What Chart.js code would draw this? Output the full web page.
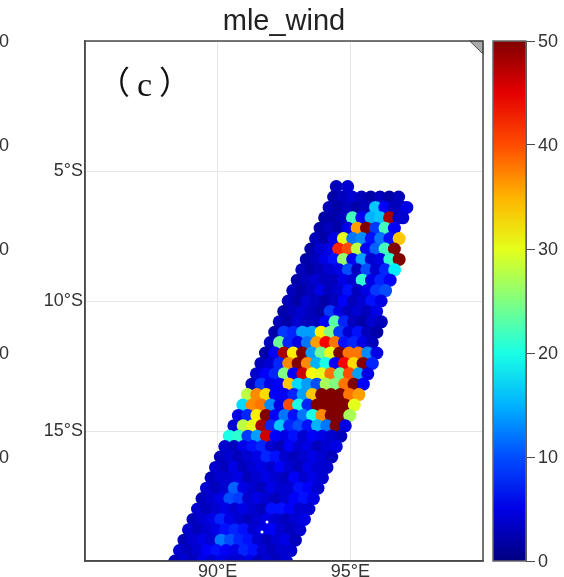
<!DOCTYPE html>
<html>
<head>
<meta charset="utf-8">
<style>
  html, body { margin: 0; padding: 0; background: #fff; overflow: hidden; }
</style>
<script src="https://cdn.jsdelivr.net/npm/chart.js@4"></script>
</head>
<body>
<canvas id="mapa" width="564" height="577"></canvas>
<script>
const chartTitle = "mle_wind";
const panelLabel = "c";
const lonTicks = [90, 95];
const latTicks = [-5, -10, -15];
const colorTicks = [0, 10, 20, 30, 40, 50];
const neighbourLabels = ["50", "40", "30", "20", "10"];
const landLon = [99.5, 100, 100];
const landLat = [0, 0, -0.5];
const speckLon = [91.86, 91.67];
const speckLat = [-18.5, -18.88];

// swath, one row per latitude
const rowLat = [-5.6, -6.0, -6.4, -6.8, -7.2, -7.6, -8.0, -8.4, -8.8, -9.2, -9.6, -10.0, -10.4, -10.8, -11.2, -11.6, -12.0, -12.4, -12.8, -13.2, -13.6, -14.0, -14.4, -14.8, -15.2, -15.6, -16.0, -16.4, -16.8, -17.2, -17.6, -18.0, -18.4, -18.8, -19.2, -19.6, -20.0];
const rowLon = [
  [94.47, 94.90],
  [94.37, 94.72, 95.07, 95.42, 95.77, 96.12, 96.47, 96.82],
  [94.20, 94.55, 94.90, 95.25, 95.60, 95.95, 96.30, 96.65, 97.00, 97.13],
  [94.03, 94.38, 94.73, 95.08, 95.43, 95.78, 96.13, 96.48, 96.83, 96.98],
  [93.86, 94.21, 94.56, 94.91, 95.26, 95.61, 95.96, 96.31, 96.66],
  [93.69, 94.04, 94.39, 94.74, 95.09, 95.44, 95.79, 96.14, 96.49, 96.84],
  [93.51, 93.86, 94.21, 94.56, 94.91, 95.26, 95.61, 95.96, 96.31, 96.66],
  [93.34, 93.69, 94.04, 94.39, 94.74, 95.09, 95.44, 95.79, 96.14, 96.49, 96.84],
  [93.17, 93.52, 93.87, 94.22, 94.57, 94.92, 95.27, 95.62, 95.97, 96.32, 96.67],
  [93.00, 93.35, 93.70, 94.05, 94.40, 94.75, 95.10, 95.45, 95.80, 96.15, 96.50],
  [92.83, 93.18, 93.53, 93.88, 94.23, 94.58, 94.93, 95.28, 95.63, 95.98, 96.33],
  [92.66, 93.01, 93.36, 93.71, 94.06, 94.41, 94.76, 95.11, 95.46, 95.81, 96.16],
  [92.49, 92.84, 93.19, 93.54, 93.89, 94.24, 94.59, 94.94, 95.29, 95.64, 95.99],
  [92.32, 92.67, 93.02, 93.37, 93.72, 94.07, 94.42, 94.77, 95.12, 95.47, 95.82, 96.17],
  [92.15, 92.50, 92.85, 93.20, 93.55, 93.90, 94.25, 94.60, 94.95, 95.30, 95.65, 96.00],
  [91.98, 92.33, 92.68, 93.03, 93.38, 93.73, 94.08, 94.43, 94.78, 95.13, 95.48, 95.83],
  [91.80, 92.15, 92.50, 92.85, 93.20, 93.55, 93.90, 94.25, 94.60, 94.95, 95.30, 95.65, 96.00],
  [91.63, 91.98, 92.33, 92.68, 93.03, 93.38, 93.73, 94.08, 94.43, 94.78, 95.13, 95.48, 95.83],
  [91.46, 91.81, 92.16, 92.51, 92.86, 93.21, 93.56, 93.91, 94.26, 94.61, 94.96, 95.31, 95.66],
  [91.29, 91.64, 91.99, 92.34, 92.69, 93.04, 93.39, 93.74, 94.09, 94.44, 94.79, 95.14, 95.49],
  [91.12, 91.47, 91.82, 92.17, 92.52, 92.87, 93.22, 93.57, 93.92, 94.27, 94.62, 94.97, 95.32],
  [90.95, 91.30, 91.65, 92.00, 92.35, 92.70, 93.05, 93.40, 93.75, 94.10, 94.45, 94.80, 95.15],
  [90.78, 91.13, 91.48, 91.83, 92.18, 92.53, 92.88, 93.23, 93.58, 93.93, 94.28, 94.63, 94.98],
  [90.61, 90.96, 91.31, 91.66, 92.01, 92.36, 92.71, 93.06, 93.41, 93.76, 94.11, 94.46, 94.81],
  [90.44, 90.79, 91.14, 91.49, 91.84, 92.19, 92.54, 92.89, 93.24, 93.59, 93.94, 94.29, 94.64],
  [90.27, 90.62, 90.97, 91.32, 91.67, 92.02, 92.37, 92.72, 93.07, 93.42, 93.77, 94.12, 94.47],
  [90.10, 90.45, 90.80, 91.15, 91.50, 91.85, 92.20, 92.55, 92.90, 93.25, 93.60, 93.95, 94.30],
  [89.92, 90.27, 90.62, 90.97, 91.32, 91.67, 92.02, 92.37, 92.72, 93.07, 93.42, 93.77, 94.12],
  [89.75, 90.10, 90.45, 90.80, 91.15, 91.50, 91.85, 92.20, 92.55, 92.90, 93.25, 93.60, 93.95],
  [89.58, 89.93, 90.28, 90.63, 90.98, 91.33, 91.68, 92.03, 92.38, 92.73, 93.08, 93.43, 93.78],
  [89.41, 89.76, 90.11, 90.46, 90.81, 91.16, 91.51, 91.86, 92.21, 92.56, 92.91, 93.26, 93.61],
  [89.24, 89.59, 89.94, 90.29, 90.64, 90.99, 91.34, 91.69, 92.04, 92.39, 92.74, 93.09, 93.44],
  [89.07, 89.42, 89.77, 90.12, 90.47, 90.82, 91.17, 91.52, 91.87, 92.22, 92.57, 92.92, 93.27],
  [88.90, 89.25, 89.60, 89.95, 90.30, 90.65, 91.00, 91.35, 91.70, 92.05, 92.40, 92.75, 93.10],
  [88.73, 89.08, 89.43, 89.78, 90.13, 90.48, 90.83, 91.18, 91.53, 91.88, 92.23, 92.58, 92.93],
  [88.56, 88.91, 89.26, 89.61, 89.96, 90.31, 90.66, 91.01, 91.36, 91.71, 92.06, 92.41, 92.76],
  [88.39, 88.74, 89.09, 89.44, 89.79, 90.14, 90.49, 90.84, 91.19, 91.54, 91.89, 92.24, 92.59]
];
const rowWind = [
  [3, 4],
  [2, 3, 4, 3, 2, 3, 2, 3],
  [3, 2, 3, 2, 3, 16, 6, 3, 3, 5],
  [2, 2, 3, 22, 6, 15, 16, 48, 3, 4],
  [2, 3, 2, 5, 36, 50, 9, 22, 6],
  [3, 2, 5, 30, 12, 13, 7, 12, 7, 34],
  [2, 4, 5, 42, 40, 28, 6, 11, 22, 50],
  [2, 3, 5, 7, 26, 6, 14, 4, 5, 21, 50],
  [3, 2, 3, 4, 5, 10, 3, 10, 4, 8, 18],
  [2, 3, 4, 3, 3, 5, 4, 21, 5, 8, 6],
  [3, 2, 3, 5, 3, 4, 7, 3, 5, 9, 10],
  [3, 2, 4, 3, 2, 3, 6, 3, 4, 7, 5],
  [2, 3, 4, 3, 2, 9, 5, 3, 4, 3, 5],
  [3, 2, 4, 3, 3, 6, 23, 8, 3, 2, 4, 3],
  [2, 9, 8, 14, 14, 32, 25, 9, 4, 7, 3, 2],
  [3, 24, 8, 5, 12, 36, 44, 38, 7, 8, 5, 3],
  [2, 6, 48, 32, 50, 14, 24, 30, 50, 38, 38, 13, 5],
  [3, 4, 8, 37, 50, 37, 15, 20, 6, 44, 33, 50, 8],
  [4, 6, 8, 25, 6, 46, 31, 30, 38, 24, 40, 14, 5],
  [3, 9, 5, 6, 34, 17, 14, 10, 27, 25, 38, 50, 6],
  [28, 37, 33, 6, 6, 8, 14, 34, 50, 50, 50, 38, 36],
  [17, 37, 38, 13, 5, 40, 20, 8, 50, 50, 50, 50, 30],
  [5, 8, 32, 50, 6, 12, 7, 12, 20, 37, 50, 50, 27],
  [4, 28, 30, 48, 8, 16, 8, 10, 7, 15, 12, 50, 5],
  [20, 21, 9, 14, 46, 6, 5, 7, 4, 6, 5, 4, 3],
  [4, 3, 5, 7, 8, 4, 3, 6, 4, 5, 3, 4, 5],
  [3, 4, 3, 4, 5, 8, 7, 4, 3, 4, 5, 4, 3],
  [4, 3, 5, 3, 4, 5, 4, 6, 4, 3, 5, 4, 4],
  [3, 4, 4, 5, 3, 4, 5, 4, 3, 6, 4, 5, 4],
  [4, 3, 4, 11, 5, 4, 3, 5, 4, 4, 7, 6, 4],
  [3, 4, 5, 10, 9, 4, 5, 4, 3, 4, 6, 7, 5],
  [4, 3, 4, 5, 4, 5, 4, 3, 7, 7, 6, 4, 4],
  [3, 4, 5, 8, 5, 4, 3, 4, 5, 4, 3, 4, 5],
  [4, 3, 4, 5, 7, 8, 7, 4, 5, 6, 4, 3, 4],
  [3, 4, 5, 4, 12, 10, 8, 7, 4, 3, 4, 5, 3],
  [4, 3, 4, 6, 7, 6, 5, 8, 7, 4, 3, 4, 4],
  [3, 4, 3, 5, 4, 5, 4, 4, 5, 3, 4, 3, 4]
];

const WIND_MAX = 50;
const frameColor = "#4a4a4a";
const textColor = "#333";
const sans = "'Liberation Sans', Arial, sans-serif";

function jet(v) {
  const t = Math.min(Math.max(v / WIND_MAX, 0), 1);
  const chan = c => Math.round(255 * Math.min(Math.max(1.5 - Math.abs(4 * t - c), 0), 1));
  return "rgb(" + chan(3) + "," + chan(2) + "," + chan(1) + ")";
}

const points = [];
const colors = [];
rowLat.forEach((lat, r) => {
  rowLon[r].forEach((lon, c) => {
    points.push({ x: lon, y: lat });
    colors.push(jet(rowWind[r][c]));
  });
});

// colorbar sits right of the map, the scale box is moved there after layout
const barLeft = 493;
const barRight = 526;

const extras = {
  id: "extras",
  afterLayout(chart) {
    const cb = chart.scales.cb;
    const w = cb.right - cb.left;
    cb.left = barRight;
    cb.right = barRight + w;
  },
  beforeDraw(chart) {
    // colorbar labels sit a little under their ticks
    chart.scales.cb.getLabelItems(chart.chartArea).forEach(item => {
      item.options.translation[1] += 1.5;
    });
  },
  afterDatasetsDraw(chart) {
    const { ctx, chartArea: a, scales } = chart;
    ctx.save();

    // land corner
    ctx.beginPath();
    landLon.forEach((lon, i) => {
      const x = scales.x.getPixelForValue(lon);
      const y = scales.y.getPixelForValue(landLat[i]);
      if (i === 0) ctx.moveTo(x, y); else ctx.lineTo(x, y);
    });
    ctx.closePath();
    ctx.fillStyle = "#aaaaaa";
    ctx.fill();
    ctx.strokeStyle = frameColor;
    ctx.lineWidth = 1;
    ctx.stroke();

    // frame
    ctx.strokeStyle = frameColor;
    ctx.lineWidth = 1.5;
    ctx.strokeRect(a.left, a.top, a.right - a.left, a.bottom - a.top);

    // colorbar
    const y0 = scales.cb.getPixelForValue(0);
    const y1 = scales.cb.getPixelForValue(WIND_MAX);
    const grad = ctx.createLinearGradient(0, y0, 0, y1);
    [0, 5, 10, 15, 20, 25, 30, 35, 40, 45, 50].forEach(v => {
      grad.addColorStop(v / WIND_MAX, jet(v));
    });
    ctx.fillStyle = grad;
    ctx.fillRect(barLeft, y1, barRight - barLeft, y0 - y1);
    ctx.strokeStyle = "#666";
    ctx.strokeRect(barLeft, y1, barRight - barLeft, y0 - y1);

    // panel label
    ctx.fillStyle = "#111";
    ctx.textBaseline = "alphabetic";
    ctx.textAlign = "left";
    ctx.font = "32px 'Noto Sans CJK SC'";
    ctx.fillText("（", 98, 94);
    ctx.fillText("）", 159, 94);
    ctx.font = "34px 'Liberation Serif', serif";
    ctx.fillText(panelLabel, 137, 96);

    // tick labels of the neighbouring panel, cut by the page edge
    ctx.fillStyle = textColor;
    ctx.font = "18px " + sans;
    ctx.textAlign = "right";
    ctx.textBaseline = "middle";
    neighbourLabels.forEach(t => {
      ctx.fillText(t, 9, scales.cb.getPixelForValue(Number(t)) + 1.5);
    });
    ctx.restore();
  }
};

new Chart(document.getElementById("mapa"), {
  type: "scatter",
  data: {
    datasets: [
      {
        data: speckLon.map((lon, i) => ({ x: lon, y: speckLat[i] })),
        pointRadius: 1.5,
        pointBorderWidth: 0,
        pointBackgroundColor: "#fff",
        clip: 0
      },
      {
        data: points,
        pointRadius: 6.5,
        pointBorderWidth: 0,
        pointBackgroundColor: colors,
        clip: 0
      }
    ]
  },
  options: {
    responsive: false,
    animation: false,
    events: [],
    layout: { autoPadding: false, padding: 0 },
    plugins: {
      legend: { display: false },
      tooltip: { enabled: false },
      title: {
        display: true,
        text: chartTitle,
        fullSize: false,
        color: "#222",
        font: { family: sans, size: 29, weight: "normal" },
        padding: { top: 5, bottom: 1.2 }
      }
    },
    scales: {
      x: {
        type: "linear",
        min: 85,
        max: 100,
        afterFit(s) { s.height = 16; },
        afterBuildTicks(s) { s.ticks = [85].concat(lonTicks, [100]).map(v => ({ value: v })); },
        grid: { color: "#e6e6e6", lineWidth: 1, drawTicks: false },
        border: { color: frameColor, width: 1.5 },
        ticks: {
          padding: 0,
          maxRotation: 0,
          autoSkip: false,
          color: textColor,
          font: { family: sans, size: 18 },
          callback: v => lonTicks.includes(v) ? v + "°E" : ""
        }
      },
      y: {
        type: "linear",
        min: -20,
        max: 0,
        afterFit(s) { s.width = 85; },
        afterBuildTicks(s) { s.ticks = [-20].concat(latTicks, [0]).map(v => ({ value: v })); },
        grid: { color: "#e6e6e6", lineWidth: 1, drawTicks: false },
        border: { color: frameColor, width: 1.5 },
        ticks: {
          padding: 2,
          autoSkip: false,
          color: textColor,
          font: { family: sans, size: 18 },
          callback: v => latTicks.includes(v) ? Math.abs(v) + "°S" : ""
        }
      },
      cb: {
        type: "linear",
        position: "right",
        min: 0,
        max: WIND_MAX,
        afterFit(s) { s.width = 81; },
        afterBuildTicks(s) { s.ticks = colorTicks.map(v => ({ value: v })); },
        grid: { drawOnChartArea: false, drawTicks: true, tickLength: 9, color: frameColor, lineWidth: 1 },
        border: { color: frameColor, width: 1 },
        ticks: {
          padding: 3,
          autoSkip: false,
          color: textColor,
          font: { family: sans, size: 18 }
        }
      }
    }
  },
  plugins: [extras]
});
</script>
</body>
</html>
